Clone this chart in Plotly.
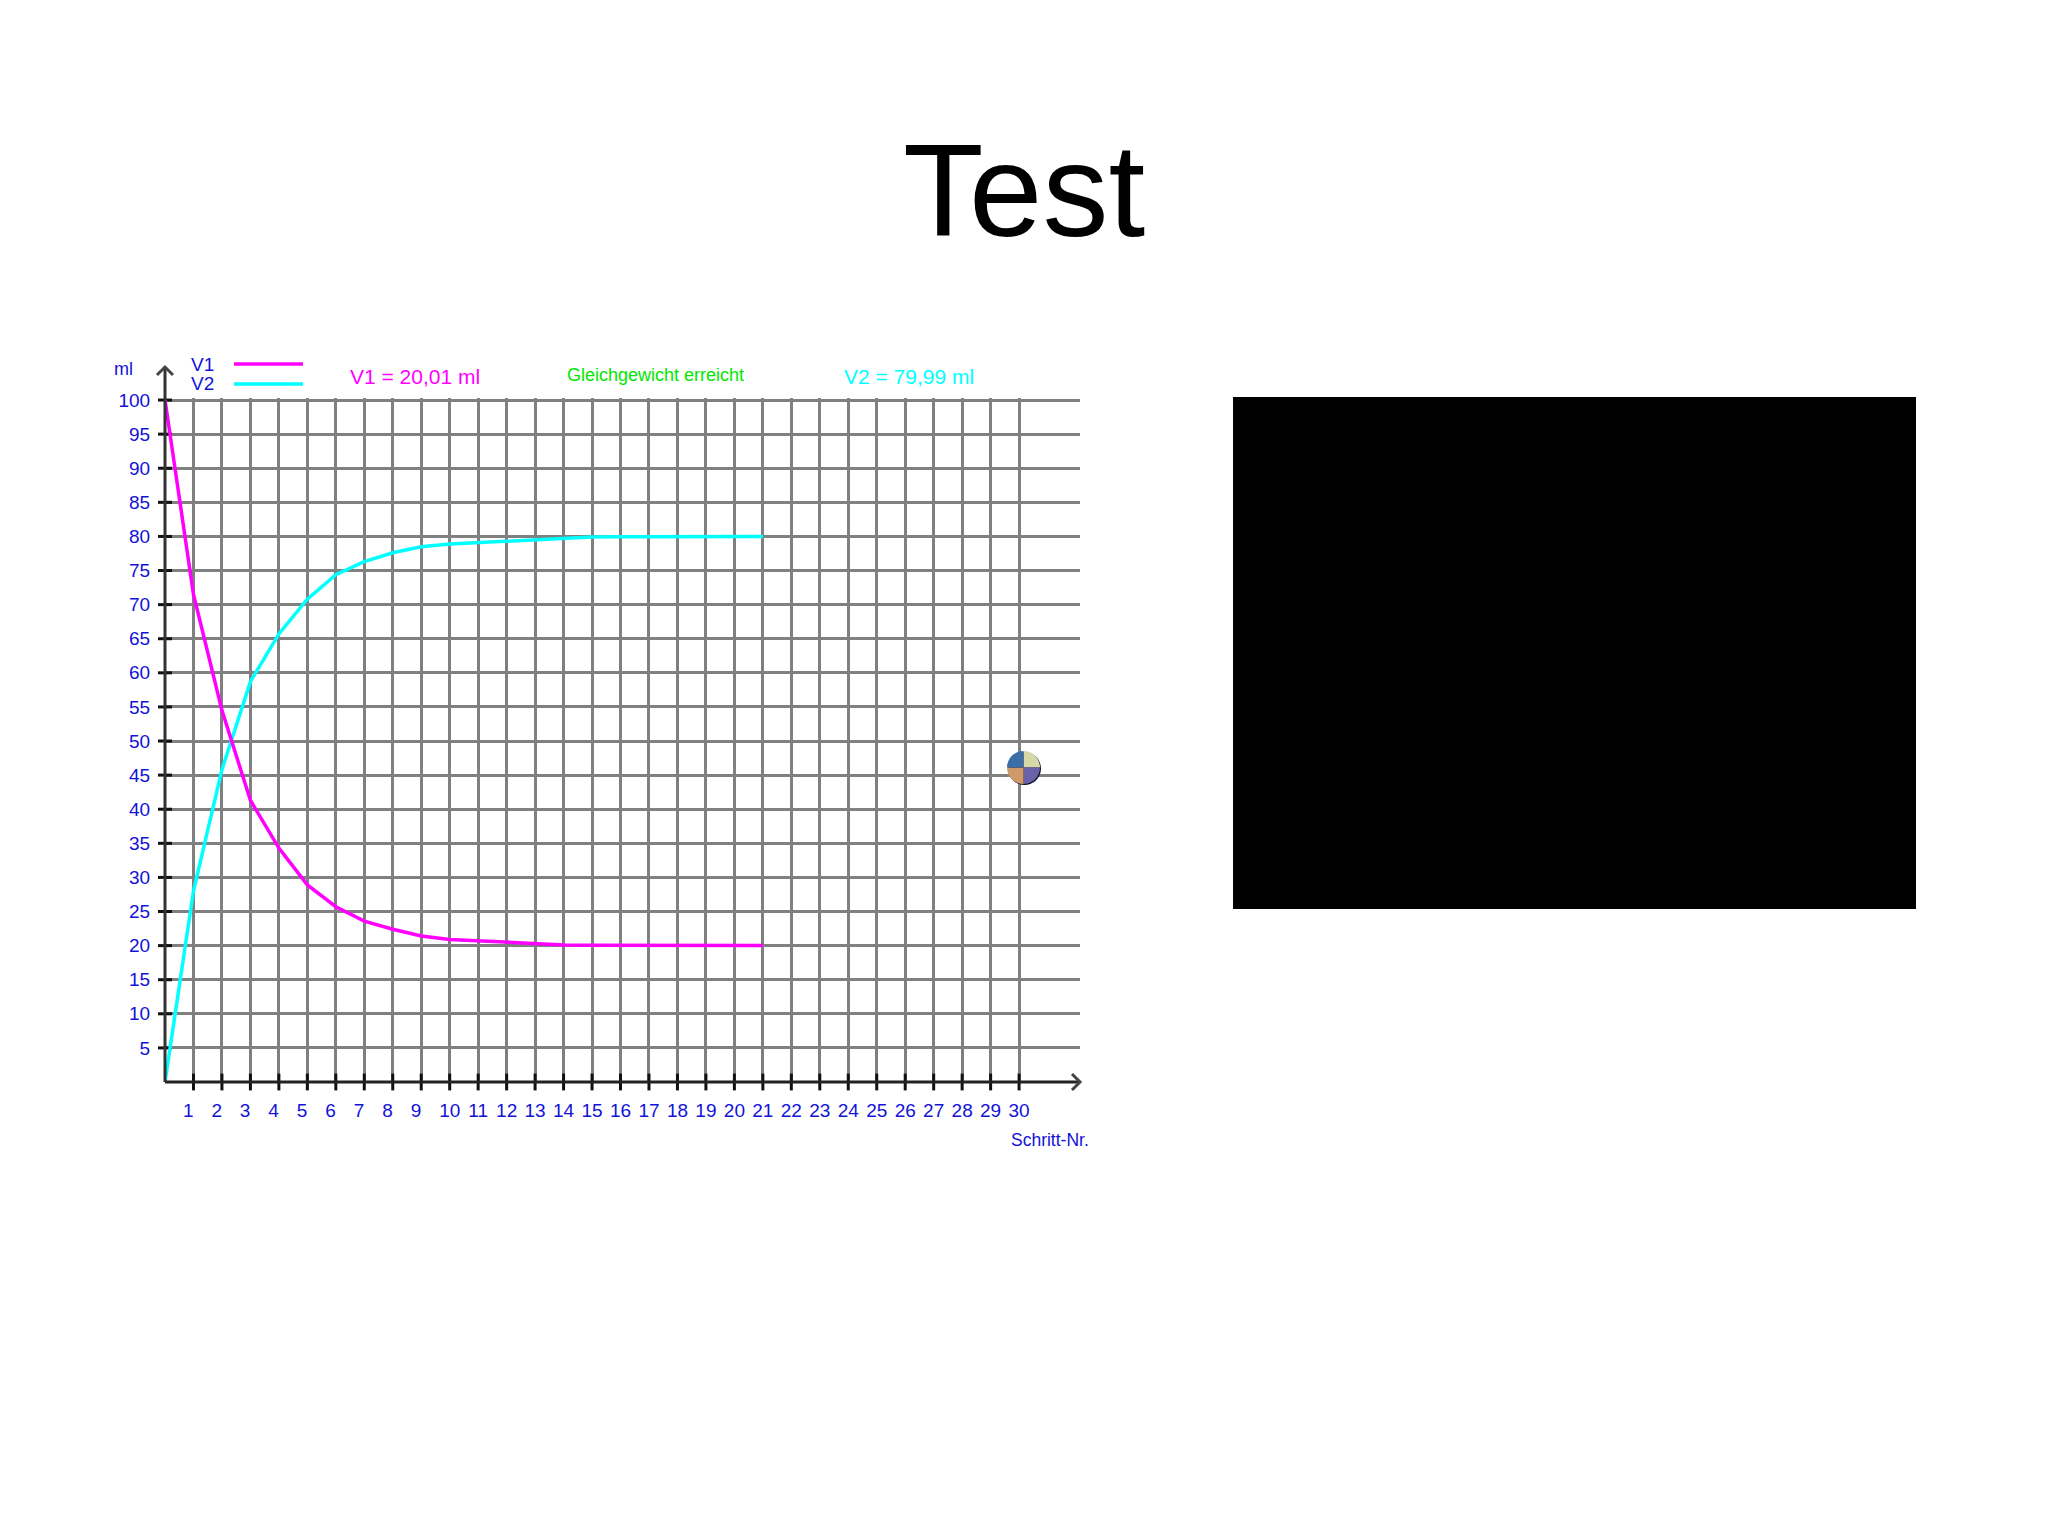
"""Volume equilibrium chart from a slide titled Test."""

import plotly.graph_objects as go

WIDTH = 2048
HEIGHT = 1536
PAGE_MARGIN = 8  # the browser's default body margin

steps = list(range(0, 22))
v1 = [100, 71.5, 54.5, 41.3, 34.3, 28.9, 25.7, 23.6, 22.4, 21.4, 20.9, 20.7, 20.4, 20.3, 20.1, 20.05, 20.03, 20.02, 20.01, 20.01, 20.01, 20.01]
v2 = [0, 28, 45.8, 58.7, 65.7, 70.8, 74.4, 76.3, 77.6, 78.5, 78.9, 79.1, 79.3, 79.6, 79.8, 79.9, 79.95, 79.97, 79.98, 79.99, 79.99, 79.99]
x_ticks = list(range(1, 31))
y_ticks = list(range(5, 105, 5))
ball_labels = ["a", "b", "c", "d"]
ball_values = [1, 1, 1, 1]
ball_colors = ["#d6d8a8", "#6a62a8", "#d09a68", "#3a6ea5"]

FONT = "Liberation Sans, sans-serif"
GRID = "#808080"
BLUE = "#1212d8"


def px(x):
    return (x - PAGE_MARGIN) / WIDTH


def py(y):
    return 1 - (y - PAGE_MARGIN) / HEIGHT


def label(text, x, y, color, size=19, anchor="left"):
    return dict(
        text=text, x=px(x), y=py(y), xref="paper", yref="paper", showarrow=False,
        xanchor=anchor, yanchor="middle", font=dict(family=FONT, size=size, color=color),
    )


fig = go.Figure()

# tick marks straddle the axes, so they are drawn as markers
fig.add_trace(go.Scatter(
    x=x_ticks, y=[0] * len(x_ticks), mode="markers", cliponaxis=False, hoverinfo="skip",
    marker=dict(symbol="line-ns", size=12, line=dict(color="#111111", width=3)),
))
fig.add_trace(go.Scatter(
    x=[0] * len(y_ticks), y=y_ticks, mode="markers", cliponaxis=False, hoverinfo="skip",
    marker=dict(symbol="line-ew", size=10, line=dict(color="#111111", width=3)),
))
fig.add_trace(go.Scatter(x=steps, y=v2, mode="lines", name="V2", cliponaxis=False, line=dict(color="#00ffff", width=3.5)))
fig.add_trace(go.Scatter(x=steps, y=v1, mode="lines", name="V1", cliponaxis=False, line=dict(color="#ff00ff", width=3.5)))
# the ball: a dark disc peeking out behind the four coloured quarters
fig.add_trace(go.Pie(
    labels=["shadow"], values=[1], sort=False, textinfo="none", hoverinfo="skip",
    marker=dict(colors=["#10102a"], line=dict(width=0)),
    domain=dict(x=[px(1008), px(1041)], y=[py(785), py(752)]),
))
fig.add_trace(go.Pie(
    labels=ball_labels, values=ball_values, sort=False, direction="clockwise", rotation=0,
    textinfo="none", hoverinfo="skip", marker=dict(colors=ball_colors, line=dict(width=0)),
    domain=dict(x=[px(1007), px(1040)], y=[py(784), py(751)]),
))

shapes = [
    # axis lines with their arrow heads
    dict(type="line", xref="paper", yref="paper", x0=px(165), x1=px(165), y0=py(1082), y1=py(367), line=dict(color="#333333", width=3)),
    dict(type="line", xref="paper", yref="paper", x0=px(165), x1=px(1080), y0=py(1082), y1=py(1082), line=dict(color="#222222", width=3)),
    dict(type="path", xref="paper", yref="paper", line=dict(color="#444444", width=3),
         path=f"M {px(157)} {py(375)} L {px(165)} {py(367)} L {px(173)} {py(375)}"),
    dict(type="path", xref="paper", yref="paper", line=dict(color="#444444", width=3),
         path=f"M {px(1072)} {py(1074)} L {px(1080)} {py(1082)} L {px(1072)} {py(1090)}"),
    # legend samples
    dict(type="line", xref="paper", yref="paper", x0=px(234), x1=px(303), y0=py(364), y1=py(364), line=dict(color="#ff00ff", width=3.5)),
    dict(type="line", xref="paper", yref="paper", x0=px(234), x1=px(303), y0=py(384), y1=py(384), line=dict(color="#00ffff", width=3.5)),
    # blacked out panel
    dict(type="rect", xref="paper", yref="paper", x0=px(1233), x1=px(1916), y0=py(909), y1=py(397), fillcolor="#000000", line=dict(width=0)),
]

annotations = [
    label("Test", 1024, 190, "#000000", size=132, anchor="center"),
    label("ml", 123, 369, BLUE, size=18, anchor="center"),
    label("V1", 189, 364, BLUE),
    label("V2", 189, 384, BLUE),
    label("V1 = 20,01 ml", 348, 376, "#ff00ff", size=21),
    label("Gleichgewicht erreicht", 565, 375, "#00e800", size=18),
    label("V2 = 79,99 ml", 842, 376, "#00ffff", size=21),
    label("Schritt-Nr.", 1009, 1140, BLUE, size=17.5),
]

fig.update_layout(
    width=WIDTH, height=HEIGHT, margin=dict(l=0, r=0, t=0, b=0), showlegend=False,
    paper_bgcolor="#ffffff", plot_bgcolor="#ffffff", shapes=shapes, annotations=annotations,
)
fig.update_xaxes(
    domain=[px(165), px(1080)], range=[0, 32.14], tickmode="array", tickvals=x_ticks,
    ticktext=[f"{t}\u00a0\u00a0" if t < 10 else str(t) for t in x_ticks],
    showgrid=True, gridcolor=GRID, gridwidth=3, zeroline=False, showline=False, automargin=False,
    ticks="outside", ticklen=11, tickcolor="rgba(0,0,0,0)",
    tickfont=dict(family=FONT, size=19, color=BLUE),
)
# a hair of headroom above 100 keeps the top grid line from being dropped at the range end
fig.update_yaxes(
    domain=[py(1082), py(398)], range=[0, 100.3], tickmode="array", tickvals=y_ticks,
    showgrid=True, gridcolor=GRID, gridwidth=3, zeroline=False, showline=False, automargin=False,
    ticks="outside", ticklen=10, tickcolor="rgba(0,0,0,0)",
    tickfont=dict(family=FONT, size=19, color=BLUE),
)

fig.write_html("out.html")
